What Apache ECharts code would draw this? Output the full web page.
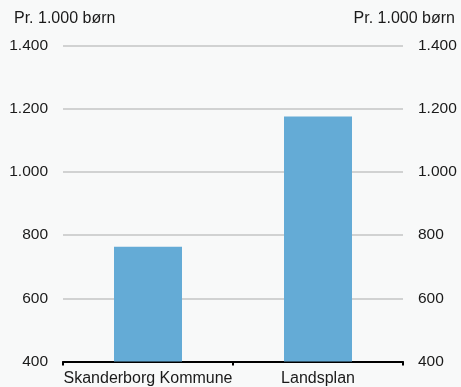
<!DOCTYPE html>
<html><head><meta charset="utf-8">
<script src="https://cdn.jsdelivr.net/npm/echarts@6/dist/echarts.min.js"></script>
<style>html,body{margin:0;padding:0;background:#f8f9f9;}#c{width:461px;height:387px;}</style>
</head><body><div id="c"></div>
<script>
const categories = ['Skanderborg Kommune', 'Landsplan'];
const values = [763, 1175];
const yMin = 400, yMax = 1400, yStep = 200;
const unitLabel = 'Pr. 1.000 børn';
const fmt = v => String(v).replace(/\B(?=(\d{3})+(?!\d))/g, '.');
const font = 'Liberation Sans';
const chart = echarts.init(document.getElementById('c'));
const yCommon = {
  type: 'value', min: yMin, max: yMax, interval: yStep,
  axisLine: {show: false}, axisTick: {show: false},
  axisLabel: {formatter: fmt, color: '#1a1a1a', fontSize: 15.5, fontFamily: font, margin: 15}
};
chart.setOption({
  backgroundColor: '#f8f9f9',
  animation: false,
  title: [
    {text: unitLabel, left: 9, top: 6, textStyle: {fontSize: 16, fontWeight: 'normal', color: '#1a1a1a', fontFamily: font}},
    {text: unitLabel, right: 1, top: 6, textStyle: {fontSize: 16, fontWeight: 'normal', color: '#1a1a1a', fontFamily: font}}
  ],
  grid: {left: 63, right: 58, top: 45.5, bottom: 25.5},
  xAxis: {
    type: 'category', data: categories,
    axisLine: {lineStyle: {color: '#000', width: 2}},
    axisTick: {show: true, length: 4, lineStyle: {color: '#000', width: 2}},
    axisLabel: {color: '#1a1a1a', fontSize: 16, fontFamily: font, margin: 9, interval: 0, hideOverlap: false}
  },
  yAxis: [
    Object.assign({}, yCommon, {position: 'left', splitLine: {lineStyle: {color: '#c4c4c4', width: 1.5}}}),
    Object.assign({}, yCommon, {position: 'right', splitLine: {show: false}})
  ],
  series: [{
    type: 'bar', data: values, barWidth: '40%',
    itemStyle: {color: '#64abd6'}
  }]
});
</script></body></html>
